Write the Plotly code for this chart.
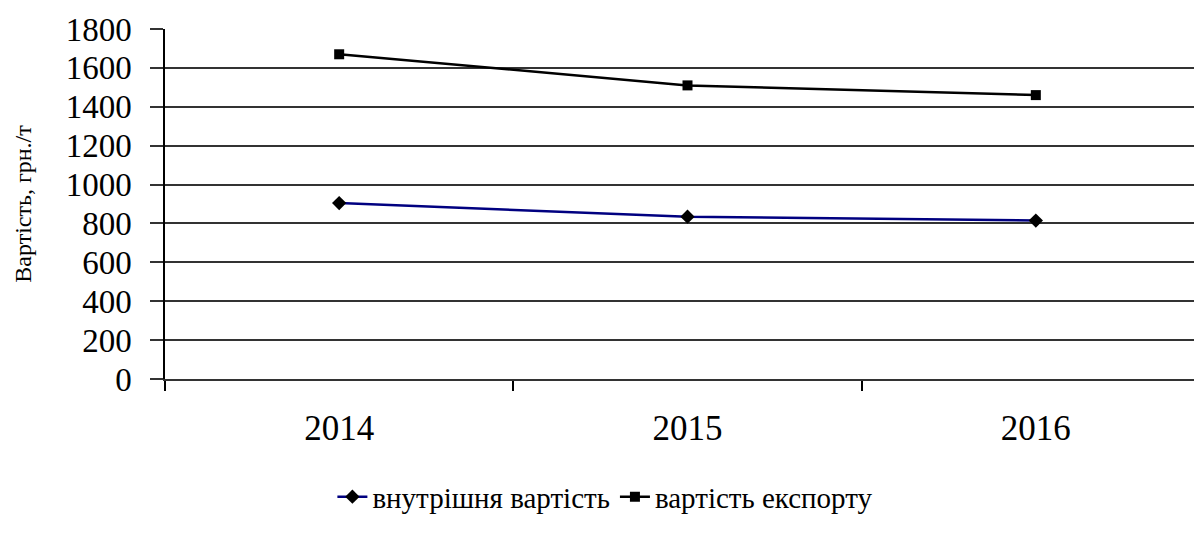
import plotly.graph_objects as go

years = ["2014", "2015", "2016"]
domestic = [905, 835, 815]
export = [1670, 1510, 1460]
y_ticks = [0, 200, 400, 600, 800, 1000, 1200, 1400, 1600, 1800]

FONT = "Liberation Serif, DejaVu Serif, serif"

fig = go.Figure()
fig.add_trace(go.Scatter(
    x=years, y=domestic, name="внутрішня вартість", mode="lines+markers",
    line=dict(color="#000080", width=2.5),
    marker=dict(symbol="diamond", size=11, color="black"),
))
fig.add_trace(go.Scatter(
    x=years, y=export, name="вартість експорту", mode="lines+markers",
    line=dict(color="black", width=2.5),
    marker=dict(symbol="square", size=10, color="black"),
))

fig.update_layout(
    width=1202, height=539,
    margin=dict(l=157, r=0, t=21, b=168, autoexpand=False),
    paper_bgcolor="white", plot_bgcolor="white",
    font=dict(family=FONT, color="black"),
    showlegend=True,
    legend=dict(orientation="h", xref="container", x=0.497, xanchor="center",
                yref="container", y=0.093, yanchor="middle",
                font=dict(family=FONT, size=29, color="black"),
                itemwidth=30, tracegroupgap=0),
    xaxis=dict(
        type="category", range=[-0.5, 2.5], tickson="boundaries",
        ticks="outside", ticklen=10, tickwidth=1.5, tickcolor="black",
        showline=True, linecolor="#333", linewidth=1.5,
        showgrid=False, zeroline=False, automargin=False,
        tickfont=dict(family=FONT, size=35, color="black"),
        ticklabelstandoff=17,
    ),
    yaxis=dict(
        range=[0, 1800], tickvals=y_ticks, ticks="outside", ticklen=13,
        tickwidth=1.5, tickcolor="#333",
        showline=True, linecolor="black", linewidth=1.5,
        showgrid=True, gridcolor="#333", gridwidth=1.5, zeroline=False,
        automargin=False,
        tickfont=dict(family=FONT, size=33, color="black"),
        ticklabelstandoff=12,
        title=dict(text="Вартість, грн./т", font=dict(family=FONT, size=24, color="black"),
                   standoff=27),
    ),
)

fig.write_html("out.html")
